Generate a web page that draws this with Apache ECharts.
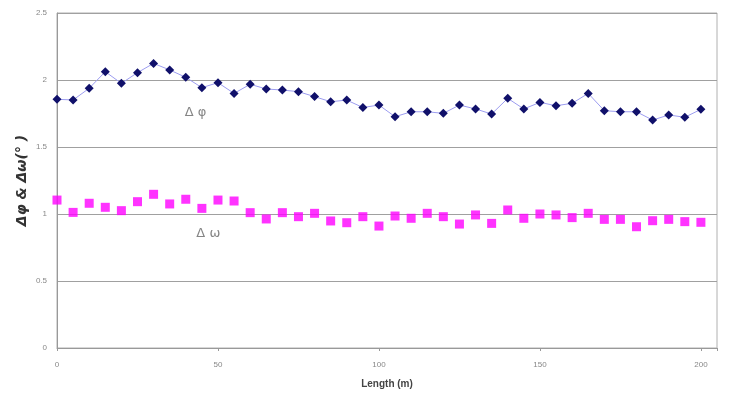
<!DOCTYPE html>
<html><head><meta charset="utf-8">
<script src="https://cdn.jsdelivr.net/npm/echarts@6/dist/echarts.min.js"></script>
<style>html,body{margin:0;padding:0;background:#fff}#c{width:729px;height:395px}</style>
</head><body><div id="c"></div>
<script>
const lengths = [0,5,10,15,20,25,30,35,40,45,50,55,60,65,70,75,80,85,90,95,100,105,110,115,120,125,130,135,140,145,150,155,160,165,170,175,180,185,190,195,200];
const dPhi = [1.856,1.851,1.938,2.062,1.975,2.055,2.124,2.075,2.02,1.943,1.98,1.90,1.968,1.933,1.925,1.913,1.876,1.838,1.85,1.795,1.813,1.726,1.763,1.763,1.751,1.813,1.784,1.746,1.863,1.784,1.833,1.808,1.826,1.90,1.771,1.763,1.763,1.701,1.739,1.722,1.781];
const dOmega = [1.104,1.012,1.08,1.05,1.025,1.092,1.147,1.075,1.11,1.042,1.104,1.097,1.01,0.963,1.01,0.98,1.005,0.948,0.935,0.98,0.91,0.985,0.968,1.005,0.98,0.925,0.993,0.93,1.03,0.968,1.0,0.993,0.973,1.005,0.96,0.96,0.905,0.95,0.96,0.943,0.938];
const yTicks = [0,0.5,1,1.5,2,2.5];
const xTicks = [0,50,100,150,200];
const labels = [{text:'Δ φ', x:43, y:1.76},{text:'Δ ω', x:47, y:0.85}];

const chart = echarts.init(document.getElementById('c'));
chart.setOption({
  animation:false,
  grid:{left:57,right:12,top:13,bottom:47,show:true,borderColor:'#b0b0b0',borderWidth:1},
  xAxis:{type:'value',min:0,max:205,interval:50,
    axisLine:{lineStyle:{color:'#999'}},axisTick:{show:true,length:3,lineStyle:{color:'#999'}},
    splitLine:{show:false},
    axisLabel:{color:'#888',fontSize:8,margin:13,formatter:v=>xTicks.includes(v)?String(v):''},
    name:'Length (m)',nameLocation:'middle',nameGap:31,
    nameTextStyle:{fontSize:10,fontWeight:'bold',color:'#444',fontFamily:'Liberation Sans'}},
  yAxis:{type:'value',min:0,max:2.5,interval:0.5,
    axisLine:{show:true,lineStyle:{color:'#999'}},axisTick:{show:false},
    splitLine:{lineStyle:{color:'#a0a0a0',width:1}},
    axisLabel:{color:'#888',fontSize:8,margin:10,formatter:v=>yTicks.includes(v)?String(v):''},
    name:'Δφ & Δω(° )',nameLocation:'middle',nameGap:28,nameRotate:90,nameMoveOverlap:false,
    nameTextStyle:{fontSize:14,fontWeight:'bold',fontStyle:'italic',color:'#333',fontFamily:'DejaVu Sans'}},
  series:[
    {type:'line',data:lengths.map((x,i)=>[x,dPhi[i]]),symbol:'diamond',symbolSize:9,
     itemStyle:{color:'#10106a'},lineStyle:{color:'#9c9cf0',width:1}},
    {type:'scatter',data:lengths.map((x,i)=>[x,dOmega[i]]),symbol:'rect',symbolSize:9,
     itemStyle:{color:'#ff00ff'}},
    {type:'scatter',data:labels.map(l=>({value:[l.x,l.y],name:l.text})),symbolSize:0,
     label:{show:true,position:'inside',formatter:p=>p.name,color:'#666',fontSize:13,fontFamily:'DejaVu Sans'},silent:true}
  ]
});
</script></body></html>
